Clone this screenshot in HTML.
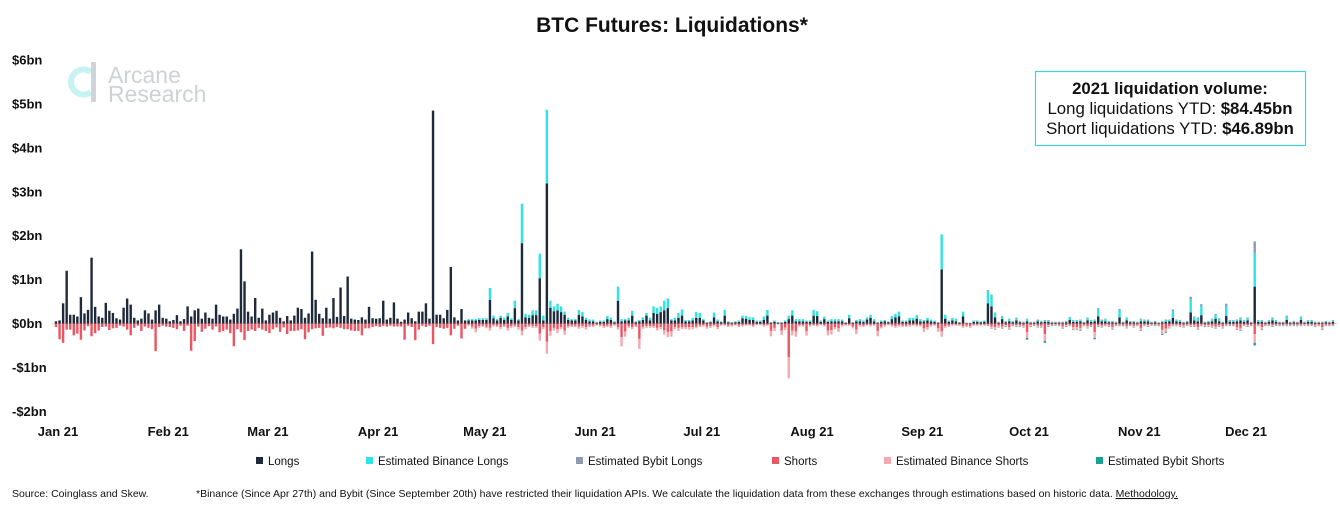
<!DOCTYPE html>
<html><head><meta charset="utf-8">
<style>
html,body{margin:0;padding:0;background:#fff;}
body{width:1340px;height:513px;overflow:hidden;font-family:"Liberation Sans",sans-serif;}
svg text{font-family:"Liberation Sans",sans-serif;}
</style></head>
<body>
<svg id="chart" width="1340" height="513" viewBox="0 0 1340 513" xmlns="http://www.w3.org/2000/svg">
  <text x="672" y="32" text-anchor="middle" font-size="21" font-weight="bold" fill="#111">BTC Futures: Liquidations*</text>
  <g>
    <path d="M 91 72 A 12.5 12.5 0 1 0 91 92" fill="none" stroke="#c8f3f3" stroke-width="6"/>
    <rect x="91" y="62" width="5" height="40" fill="#d0d4d8"/>
    <text x="108" y="83" font-size="23" fill="#cdd2d7">Arcane</text>
    <text x="108" y="102" font-size="23" fill="#cdd2d7">Research</text>
  </g>
  <g id="yaxis"></g>
  <g id="xaxis"></g>
  <line id="zeroline" x1="52" x2="1337" stroke="#d9d9d9" stroke-width="1"/>
  <g id="bars"></g>
  <g>
    <rect x="1035.5" y="71.5" width="270" height="74" fill="#fff" stroke="#3ad9d9" stroke-width="1.2"/>
    <text x="1170" y="94" text-anchor="middle" font-size="16.8" font-weight="bold" fill="#111">2021 liquidation volume:</text>
    <text x="1170" y="114" text-anchor="middle" font-size="16.8" fill="#111">Long liquidations YTD: <tspan font-weight="bold">$84.45bn</tspan></text>
    <text x="1170" y="134" text-anchor="middle" font-size="16.8" fill="#111">Short liquidations YTD: <tspan font-weight="bold">$46.89bn</tspan></text>
  </g>
  <g id="legend"></g>
  <text x="12" y="497" font-size="10.5" fill="#111">Source: Coinglass and Skew.</text>
  <text x="196" y="497" font-size="10.5" fill="#111">*Binance (Since Apr 27th) and Bybit (Since September 20th) have restricted their liquidation APIs. We calculate the liquidation data from these exchanges through estimations based on historic data. <tspan text-decoration="underline">Methodology.</tspan></text>
</svg>
<script>
// ---- data (daily, day 0 = Jan 1 2021), values in $bn ----
const yTicks = [6,5,4,3,2,1,0,-1,-2];
const yTickLabels = ["$6bn","$5bn","$4bn","$3bn","$2bn","$1bn","$0bn","-$1bn","-$2bn"];
const monthLabels = ["Jan 21","Feb 21","Mar 21","Apr 21","May 21","Jun 21","Jul 21","Aug 21","Sep 21","Oct 21","Nov 21","Dec 21"];
const monthStartDays = [0,31,59,90,120,151,181,212,243,273,304,334];
const binanceStart = 116;
const bybitStart = 262;
const longs = [
0.05,0.07,0.46,1.2,0.2,0.2,0.16,0.6,0.23,0.31,
1.5,0.38,0.16,0.13,0.47,0.29,0.24,0.12,0.09,0.36,
0.57,0.43,0.13,0.07,0.11,0.3,0.23,0.09,0.3,0.43,
0.13,0.11,0.05,0.08,0.19,0.05,0.1,0.39,0.16,0.3,
0.34,0.11,0.25,0.13,0.11,0.43,0.2,0.16,0.16,0.09,
0.22,0.34,1.69,0.96,0.27,0.16,0.58,0.13,0.34,0.07,
0.2,0.25,0.29,0.13,0.05,0.17,0.07,0.18,0.36,0.33,
0.13,0.23,1.64,0.54,0.22,0.12,0.36,0.11,0.58,0.15,
0.82,0.17,1.07,0.11,0.09,0.08,0.14,0.09,0.38,0.12,
0.11,0.12,0.52,0.09,0.13,0.48,0.11,0.04,0.09,0.25,
0.12,0.05,0.27,0.27,0.46,0.11,4.85,0.2,0.2,0.12,
0.31,1.29,0.14,0.07,0.33,0.07,0.07,0.07,0.07,0.08,
0.08,0.08,0.54,0.12,0.07,0.13,0.08,0.16,0.08,0.35,
0.07,1.83,0.14,0.13,0.19,0.19,1.03,0.07,3.19,0.36,
0.28,0.3,0.26,0.2,0.08,0.07,0.07,0.2,0.16,0.08,
0.05,0.05,0.02,0.04,0.04,0.1,0.08,0.03,0.52,0.05,
0.07,0.07,0.18,0.03,0.05,0.08,0.18,0.07,0.24,0.22,
0.26,0.3,0.35,0.07,0.07,0.13,0.18,0.05,0.05,0.07,
0.13,0.13,0.07,0.02,0.03,0.14,0.05,0.03,0.18,0.03,
0.02,0.03,0.04,0.12,0.11,0.08,0.08,0.04,0.04,0.08,
0.18,0.02,0.04,0.02,0.02,0.04,0.1,0.18,0.05,0.05,
0.05,0.04,0.04,0.18,0.17,0.04,0.1,0.04,0.05,0.05,
0.05,0.05,0.02,0.12,0.02,0.05,0.05,0.04,0.09,0.13,
0.05,0.02,0.04,0.05,0.03,0.1,0.14,0.16,0.04,0.04,
0.07,0.07,0.11,0.05,0.05,0.07,0.05,0.04,0.02,1.23,
0.11,0.04,0.07,0.05,0.02,0.16,0.01,0.01,0.04,0.04,
0.03,0.04,0.46,0.39,0.14,0.02,0.1,0.03,0.05,0.03,
0.07,0.03,0.02,0.05,0.02,0.02,0.05,0.03,0.04,0.04,
0.02,0.02,0.02,0.02,0.03,0.08,0.04,0.04,0.05,0.02,
0.07,0.04,0.05,0.16,0.05,0.05,0.03,0.03,0.02,0.14,
0.02,0.07,0.03,0.03,0.02,0.05,0.05,0.05,0.02,0.03,
0.01,0.03,0.04,0.05,0.13,0.05,0.04,0.02,0.03,0.25,
0.07,0.05,0.19,0.02,0.03,0.05,0.11,0.05,0.02,0.17,
0.04,0.04,0.05,0.07,0.04,0.07,0.02,0.84,0.04,0.04,
0.02,0.04,0.07,0.04,0.02,0.02,0.08,0.02,0.03,0.02,
0.08,0.02,0.04,0.04,0.02,0.02,0.02,0.03,0.02,0.04];
// starts at binanceStart (day 116)
const binanceLongs = [
0.03,0.03,0.03,0.04,
0.04,0.04,0.27,0.06,0.03,0.05,0.05,0.08,0.04,0.17,
0.03,0.9,0.08,0.07,0.11,0.11,0.56,0.11,1.68,0.16,
0.11,0.15,0.13,0.07,0.05,0.03,0.03,0.11,0.1,0.05,
0.04,0.04,0.02,0.03,0.03,0.07,0.05,0.02,0.32,0.05,
0.03,0.06,0.11,0.02,0.03,0.06,0.06,0.06,0.15,0.14,
0.13,0.22,0.22,0.03,0.06,0.11,0.14,0.03,0.03,0.06,
0.13,0.11,0.03,0.01,0.02,0.11,0.04,0.02,0.13,0.02,
0.01,0.02,0.03,0.06,0.06,0.06,0.06,0.03,0.03,0.08,
0.13,0.01,0.03,0.01,0.01,0.03,0.08,0.12,0.05,0.05,
0.05,0.03,0.03,0.13,0.11,0.03,0.06,0.03,0.05,0.05,
0.05,0.04,0.01,0.08,0.01,0.03,0.05,0.03,0.05,0.07,
0.05,0.01,0.03,0.03,0.02,0.07,0.08,0.11,0.03,0.03,
0.06,0.06,0.08,0.05,0.03,0.06,0.04,0.03,0.01,0.8,
0.09,0.03,0.06,0.06,0.01,0.11,0.01,0.01,0.03,0.03,
0.02,0.03,0.28,0.25,0.1,0.01,0.06,0.02,0.05,0.02,
0.06,0.02,0.01,0.05,0.01,0.01,0.03,0.02,0.03,0.03,
0.01,0.01,0.01,0.01,0.02,0.06,0.03,0.03,0.03,0.01,
0.06,0.03,0.03,0.17,0.03,0.05,0.02,0.02,0.01,0.17,
0.01,0.06,0.02,0.02,0.01,0.05,0.03,0.03,0.01,0.02,
0.01,0.02,0.04,0.03,0.15,0.03,0.03,0.01,0.02,0.3,
0.07,0.08,0.21,0.01,0.02,0.05,0.09,0.06,0.01,0.23,
0.03,0.03,0.03,0.05,0.03,0.06,0.01,0.77,0.03,0.03,
0.01,0.03,0.06,0.03,0.01,0.01,0.08,0.01,0.02,0.01,
0.06,0.01,0.03,0.03,0.01,0.01,0.01,0.02,0.01,0.03];
// starts at bybitStart (day 262)
const bybitLongs = [
0.02,0.02,0.01,0.01,0.01,0.01,0.01,0.01,
0.01,0.01,0.01,0.01,0.01,0.01,0.01,0.01,0.01,0.01,
0.01,0.01,0.01,0.01,0.01,0.01,0.01,0.01,0.01,0.01,
0.01,0.01,0.01,0.02,0.01,0.01,0.01,0.01,0.01,0.02,
0.01,0.01,0.01,0.01,0.01,0.01,0.01,0.01,0.01,0.01,
0.01,0.01,0.01,0.01,0.04,0.01,0.01,0.01,0.01,0.06,
0.02,0.01,0.04,0.01,0.01,0.01,0.02,0.01,0.01,0.05,
0.01,0.01,0.01,0.02,0.01,0.01,0.01,0.26,0.01,0.01,
0.01,0.01,0.01,0.01,0.01,0.01,0.02,0.01,0.01,0.01,
0.02,0.01,0.01,0.01,0.01,0.01,0.01,0.01,0.01,0.01];
const shorts = [
0.08,0.36,0.44,0.14,0.14,0.27,0.23,0.37,0.16,0.06,
0.29,0.22,0.16,0.08,0.07,0.15,0.11,0.1,0.05,0.07,
0.14,0.27,0.1,0.05,0.17,0.07,0.1,0.13,0.63,0.08,
0.05,0.07,0.08,0.1,0.13,0.05,0.17,0.05,0.62,0.4,
0.07,0.19,0.12,0.06,0.14,0.07,0.2,0.17,0.14,0.22,
0.52,0.13,0.2,0.38,0.17,0.14,0.17,0.1,0.14,0.17,
0.22,0.13,0.09,0.19,0.09,0.24,0.17,0.17,0.16,0.13,
0.36,0.2,0.13,0.11,0.1,0.28,0.1,0.09,0.11,0.08,
0.1,0.13,0.13,0.16,0.17,0.17,0.27,0.11,0.11,0.08,
0.06,0.08,0.05,0.07,0.05,0.07,0.07,0.07,0.37,0.05,
0.08,0.38,0.14,0.05,0.08,0.05,0.47,0.08,0.1,0.12,
0.1,0.27,0.12,0.05,0.34,0.12,0.03,0.07,0.12,0.06,
0.05,0.07,0.1,0.04,0.05,0.08,0.05,0.1,0.06,0.05,
0.08,0.16,0.08,0.05,0.06,0.06,0.23,0.08,0.41,0.17,
0.1,0.13,0.08,0.16,0.06,0.05,0.05,0.07,0.06,0.08,
0.05,0.05,0.03,0.04,0.06,0.05,0.06,0.03,0.08,0.31,
0.18,0.06,0.08,0.05,0.35,0.07,0.06,0.06,0.06,0.1,
0.08,0.15,0.19,0.18,0.08,0.1,0.08,0.08,0.08,0.08,
0.07,0.05,0.04,0.07,0.06,0.04,0.08,0.03,0.03,0.05,
0.04,0.03,0.05,0.04,0.03,0.03,0.05,0.02,0.02,0.04,
0.03,0.17,0.1,0.01,0.16,0.09,0.77,0.16,0.18,0.04,
0.04,0.17,0.04,0.03,0.04,0.02,0.04,0.16,0.15,0.08,
0.11,0.04,0.03,0.03,0.07,0.14,0.04,0.05,0.03,0.04,
0.03,0.17,0.07,0.04,0.02,0.04,0.06,0.04,0.05,0.05,
0.04,0.03,0.04,0.04,0.11,0.08,0.04,0.03,0.11,0.18,
0.06,0.05,0.03,0.03,0.03,0.06,0.05,0.06,0.03,0.03,
0.03,0.03,0.03,0.07,0.08,0.05,0.07,0.04,0.08,0.03,
0.04,0.04,0.05,0.2,0.04,0.03,0.05,0.05,0.24,0.04,
0.03,0.02,0.03,0.07,0.04,0.03,0.08,0.08,0.1,0.03,
0.06,0.04,0.2,0.04,0.05,0.03,0.04,0.08,0.03,0.03,
0.03,0.06,0.03,0.05,0.03,0.1,0.03,0.04,0.02,0.03,
0.03,0.14,0.12,0.06,0.03,0.03,0.04,0.05,0.03,0.04,
0.04,0.08,0.03,0.04,0.04,0.05,0.07,0.04,0.06,0.03,
0.03,0.03,0.08,0.1,0.03,0.04,0.03,0.24,0.03,0.08,
0.03,0.03,0.04,0.03,0.03,0.03,0.03,0.03,0.03,0.03,
0.03,0.02,0.03,0.03,0.04,0.03,0.08,0.03,0.03,0.03];
// starts at binanceStart (day 116)
const binanceShorts = [
0.02,0.05,0.08,0.04,
0.03,0.04,0.06,0.03,0.03,0.05,0.03,0.06,0.04,0.03,
0.06,0.11,0.05,0.03,0.04,0.04,0.16,0.05,0.28,0.11,
0.06,0.09,0.05,0.1,0.04,0.03,0.03,0.05,0.04,0.06,
0.03,0.03,0.02,0.03,0.04,0.03,0.04,0.02,0.06,0.21,
0.12,0.04,0.05,0.03,0.23,0.05,0.04,0.04,0.04,0.06,
0.05,0.1,0.12,0.12,0.05,0.07,0.05,0.05,0.06,0.05,
0.04,0.03,0.03,0.05,0.04,0.03,0.05,0.02,0.02,0.03,
0.03,0.02,0.03,0.03,0.02,0.02,0.03,0.02,0.02,0.03,
0.02,0.12,0.07,0.01,0.1,0.06,0.48,0.11,0.12,0.03,
0.03,0.11,0.03,0.02,0.03,0.02,0.03,0.11,0.1,0.05,
0.08,0.03,0.02,0.02,0.04,0.1,0.03,0.03,0.02,0.03,
0.02,0.12,0.04,0.03,0.02,0.03,0.04,0.03,0.03,0.03,
0.03,0.02,0.03,0.03,0.08,0.06,0.03,0.02,0.08,0.12,
0.04,0.03,0.02,0.02,0.02,0.04,0.03,0.04,0.02,0.02,
0.02,0.02,0.02,0.04,0.05,0.03,0.04,0.03,0.05,0.02,
0.03,0.03,0.03,0.13,0.03,0.02,0.03,0.03,0.16,0.03,
0.02,0.02,0.02,0.04,0.03,0.02,0.06,0.06,0.06,0.02,
0.04,0.03,0.13,0.03,0.03,0.02,0.03,0.05,0.02,0.02,
0.02,0.04,0.02,0.03,0.02,0.06,0.02,0.03,0.02,0.02,
0.02,0.1,0.08,0.04,0.02,0.02,0.03,0.03,0.02,0.03,
0.03,0.05,0.02,0.03,0.03,0.03,0.04,0.03,0.04,0.02,
0.02,0.02,0.06,0.06,0.02,0.03,0.02,0.2,0.02,0.06,
0.02,0.02,0.03,0.02,0.02,0.02,0.02,0.02,0.02,0.02,
0.02,0.02,0.02,0.02,0.03,0.02,0.06,0.02,0.02,0.02];
// starts at bybitStart (day 262)
const bybitShorts = [
0.01,0.01,0.01,0.01,0.01,0.01,0.01,0.01,
0.01,0.01,0.01,0.04,0.01,0.01,0.01,0.01,0.04,0.01,
0.01,0.01,0.01,0.01,0.01,0.01,0.01,0.01,0.01,0.01,
0.01,0.01,0.03,0.01,0.01,0.01,0.01,0.01,0.01,0.01,
0.01,0.01,0.01,0.01,0.01,0.01,0.01,0.01,0.01,0.01,
0.01,0.02,0.02,0.01,0.01,0.01,0.01,0.01,0.01,0.01,
0.01,0.01,0.01,0.01,0.01,0.01,0.01,0.01,0.01,0.01,
0.01,0.01,0.01,0.01,0.01,0.01,0.01,0.06,0.01,0.01,
0.01,0.01,0.01,0.01,0.01,0.01,0.01,0.01,0.01,0.01,
0.01,0.01,0.01,0.01,0.01,0.01,0.01,0.01,0.01,0.01];
const legendLabels = ["Longs","Estimated Binance Longs","Estimated Bybit Longs","Shorts","Estimated Binance Shorts","Estimated Bybit Shorts"];
const legendColors = ["#1e2939","#2ee3e3","#8d9ab0","#eb5662","#f4a9af","#17a394"];

// ---- scales ----
const X0 = 56, DX = 3.557;
function xScale(day){ return X0 + day*DX; }
const Y0 = 323.5, PPB = 43.9;
function yScale(v){ return Y0 - v*PPB; }

const NS = "http://www.w3.org/2000/svg";
function mk(tag, attrs, parent){
  const e = document.createElementNS(NS, tag);
  for (const k in attrs) e.setAttribute(k, attrs[k]);
  parent.appendChild(e);
  return e;
}

const zl = document.getElementById('zeroline');
zl.setAttribute('y1', yScale(0)); zl.setAttribute('y2', yScale(0));

// y axis
const yg = document.getElementById('yaxis');
yTicks.forEach((t,i)=>{
  const tx = mk('text', {x:12, y:yScale(t)+4.5, 'font-size':13, 'font-weight':'bold', fill:'#111'}, yg);
  tx.textContent = yTickLabels[i];
  
  
});

// x axis
const xg = document.getElementById('xaxis');
monthLabels.forEach((m,i)=>{
  const tx = mk('text', {x:xScale(monthStartDays[i])+2, y:436, 'text-anchor':'middle', 'font-size':13, 'font-weight':'bold', fill:'#111'}, xg);
  tx.textContent = m;
  
  
});

// bars
const bg = document.getElementById('bars');
const BW = 2.4;
function seg(day, from, to, color, name){
  const y1 = yScale(from), y2 = yScale(to);
  const r = mk('rect', {x:(xScale(day)-BW/2).toFixed(2), y:Math.min(y1,y2).toFixed(2), width:BW, height:Math.max(Math.abs(y2-y1),0.3).toFixed(2), fill:color}, bg);
  
  
}
for (let d=0; d<longs.length; d++){
  let top = 0;
  seg(d, 0, longs[d], legendColors[0], 'bar-longs'); top = longs[d];
  const bi = d - binanceStart;
  if (bi >= 0 && bi < binanceLongs.length){ seg(d, top, top+binanceLongs[bi], legendColors[1], 'bar-binance-longs'); top += binanceLongs[bi]; }
  const yi = d - bybitStart;
  if (yi >= 0 && yi < bybitLongs.length){ seg(d, top, top+bybitLongs[yi], legendColors[2], 'bar-bybit-longs'); }
  let bot = 0;
  seg(d, 0, -shorts[d], legendColors[3], 'bar-shorts'); bot = -shorts[d];
  if (bi >= 0 && bi < binanceShorts.length){ seg(d, bot, bot-binanceShorts[bi], legendColors[4], 'bar-binance-shorts'); bot -= binanceShorts[bi]; }
  if (yi >= 0 && yi < bybitShorts.length){ seg(d, bot, bot-bybitShorts[yi], legendColors[5], 'bar-bybit-shorts'); }
}

// legend
const lg = document.getElementById('legend');
const legendX = [256,366,576,772,884,1096];
legendLabels.forEach((l,i)=>{
  const g = mk('g', {}, lg);
  
  
  mk('rect', {x:legendX[i], y:457, width:7, height:7, fill:legendColors[i]}, g);
  const t = mk('text', {x:legendX[i]+12, y:465, 'font-size':11.5, fill:'#111'}, g);
  t.textContent = l;
});
</script>
</body></html>
